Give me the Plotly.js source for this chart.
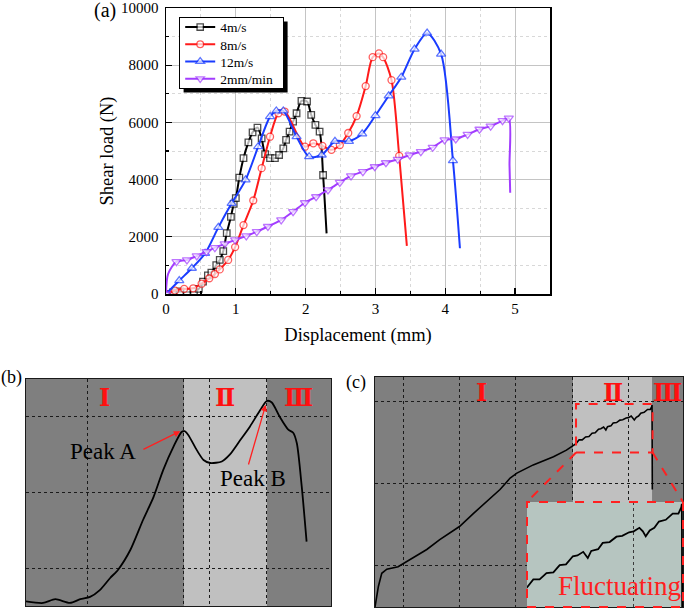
<!DOCTYPE html>
<html><head><meta charset="utf-8">
<script src="https://cdn.plot.ly/plotly-3.0.1.min.js"></script>
<style>html,body{margin:0;padding:0;background:#fff}#chart{width:685px;height:608px}</style>
</head><body><div id="chart"></div>
<script>
// ---------- Panel (a): shear load vs displacement ----------
const seriesNames = ['4m/s', '8m/s', '12m/s', '2mm/min'];
const disp4 = [0.00,0.10,0.20,0.30,0.40,0.47,0.53,0.60,0.65,0.72,0.77,0.82,0.87,0.93,0.97,1.00,1.05,1.11,1.18,1.24,1.31,1.37,1.42,1.49,1.56,1.62,1.68,1.72,1.77,1.82,1.87,1.94,2.02,2.08,2.14,2.20,2.25,2.30];
const load4 = [0,60,90,70,80,180,430,650,750,1010,1190,1500,2130,2700,3150,3350,4070,4750,5300,5650,5820,5440,4890,4750,4750,4860,5090,5390,5680,6030,6320,6750,6730,6260,5910,5680,4160,2120];
const disp8 = [0.00,0.13,0.26,0.39,0.51,0.62,0.70,0.77,0.89,0.99,1.11,1.25,1.37,1.49,1.61,1.70,1.99,2.11,2.24,2.37,2.49,2.61,2.73,2.86,2.96,3.05,3.11,3.23,3.34,3.45];
const load8 = [0,120,180,200,360,550,700,860,1190,1640,2410,3270,4400,5500,6320,6380,5150,5270,5180,5040,5210,5630,6220,7270,8280,8410,8280,7480,4830,1680];
const disp12 = [0.00,0.19,0.37,0.56,0.75,0.94,1.14,1.32,1.49,1.58,1.68,1.87,2.05,2.23,2.42,2.62,2.81,3.00,3.19,3.37,3.56,3.74,3.94,4.11,4.21];
const load12 = [0,470,900,1420,2330,3170,3990,5150,6200,6400,6400,5500,4800,4860,5340,5340,5600,6240,6930,7580,8560,9120,8390,4660,1600];
const dispQS = [0.00,0.03,0.15,0.30,0.44,0.58,0.70,0.84,0.99,1.15,1.30,1.46,1.65,1.82,1.99,2.15,2.32,2.49,2.65,2.82,2.99,3.15,3.32,3.49,3.65,3.82,3.99,4.15,4.32,4.49,4.65,4.82,4.91,4.92,4.93];
const loadQS = [0,700,1130,1190,1330,1480,1620,1750,1890,2030,2180,2360,2590,2880,3190,3400,3640,3900,4130,4280,4450,4590,4710,4860,4980,5130,5390,5420,5580,5760,5870,6060,6150,4500,3540];
const xTicks = [0,1,2,3,4,5];
const yTicks = [0,2000,4000,6000,8000,10000];

// ---------- Panel (b): schematic of a two-peak curve ----------
const bDisp = [0,0.28,0.48,0.72,0.89,1.05,1.21,1.38,1.51,1.71,1.92,2.09,2.25,2.42,2.55,2.60,2.66,2.80,2.91,3.02,3.21,3.34,3.51,3.67,3.84,3.95,4.03,4.16,4.30,4.38,4.44,4.52,4.60];
const bLoad = [0.06,0.04,0.09,0.04,0.09,0.12,0.21,0.37,0.48,0.74,1.14,1.44,1.80,2.11,2.30,2.31,2.26,2.06,1.93,1.89,1.91,2.00,2.19,2.37,2.59,2.71,2.69,2.50,2.33,2.29,2.15,1.58,0.85];
const bStages = [2.59, 3.95];

// ---------- Panel (c): quasi-static curve with fluctuating zone ----------
const cDisp = [0,0.03,0.06,0.12,0.21,0.41,0.56,0.74,0.92,1.15,1.50,1.75,1.98,2.22,2.40,2.52,2.81,3.17,3.40,3.57,3.625,3.68,3.74,3.80,3.855,3.91,3.97,4.01,4.06,4.10,4.13,4.19,4.23,4.29,4.35,4.40,4.46,4.50,4.55,4.58,4.605,4.64,4.68,4.72,4.78,4.84,4.89,4.915,4.92,4.925];
const cLoad = [0,0.12,0.25,0.41,0.46,0.49,0.55,0.63,0.70,0.82,0.98,1.14,1.28,1.43,1.57,1.63,1.73,1.83,1.91,1.99,2.035,2.035,2.07,2.075,2.115,2.12,2.165,2.17,2.19,2.155,2.195,2.205,2.24,2.245,2.275,2.28,2.30,2.305,2.325,2.305,2.277,2.31,2.325,2.36,2.37,2.405,2.405,2.44,2.46,1.43];
const cStages = [3.52, 4.92];
const stageLabels = ['Ⅰ', 'Ⅱ', 'Ⅲ'];
const zoomWindow = {x: [3.57, 4.93], y: [1.88, 2.47]};

// ---------- styling ----------
const SERIF = 'Liberation Serif, Times New Roman, serif';
const W = 685, H = 608;
const px = (a, b) => [a / W, b / W];
const py = (top, bottom) => [1 - bottom / H, 1 - top / H];

const dom = {
  a: {x: px(166, 550), y: py(8, 294)},
  b: {x: px(26, 331), y: py(379, 606)},
  c: {x: px(375, 683), y: py(377, 607)},
  inset: {x: px(527, 683), y: py(502, 607)}
};
const rng = {
  b: {x: [0, 5], y: [0, 3]},
  c: {x: [0, 5.47], y: [0, 2.8]}
};
const LEG = {left: 179, top: 17, w: 104, h: 71, step: 17.2, shadow: 4};

function sizes(n, hidden, s) {
  const arr = new Array(n).fill(s);
  hidden.forEach(i => { arr[i < 0 ? n + i : i] = 0; });
  return arr;
}

function series(x, y, name, color, symbol, size, hidden) {
  return {
    type: 'scatter', mode: 'lines+markers', x: x, y: y, name: name,
    xaxis: 'x', yaxis: 'y',
    line: {color: color, width: 2, shape: 'spline', smoothing: 0.8},
    marker: {symbol: symbol, size: sizes(x.length, hidden, size), color: 'white',
             line: {color: color, width: 1.3}}
  };
}

const traces = [
  series(disp4, load4, seriesNames[0], '#000000', 'square', 6.5, [-1]),
  series(disp8, load8, seriesNames[1], '#ff1a1a', 'circle', 7, [-1]),
  series(disp12, load12, seriesNames[2], '#1a3cff', 'triangle-up', 8, [-1]),
  series(dispQS, loadQS, seriesNames[3], '#a23cff', 'triangle-down', 8, [1, -2, -1]),
  {type: 'scatter', mode: 'lines', x: bDisp, y: bLoad, xaxis: 'x2', yaxis: 'y2', showlegend: false,
   line: {color: '#000', width: 1.8, shape: 'spline', smoothing: 0.7}},
  {type: 'scatter', mode: 'lines', x: cDisp, y: cLoad, xaxis: 'x3', yaxis: 'y3', showlegend: false,
   line: {color: '#000', width: 1.6}},
  {type: 'scatter', mode: 'lines', x: cDisp, y: cLoad, xaxis: 'x4', yaxis: 'y4', showlegend: false,
   line: {color: '#000', width: 1.8}}
];

const frameAxis = {showline: true, mirror: true, linecolor: '#1a1a1a', linewidth: 1,
  showticklabels: false, ticks: '', zeroline: false, showgrid: true,
  gridcolor: '#1a1a1a', griddash: 'dot', gridwidth: 1, fixedrange: true};

const DARK = '#7f7f7f', LIGHT = '#c0c0c0';
const shapes = [];
function stageRects(xa, ya, stages, xr, yr) {
  const edges = [xr[0], stages[0], stages[1], xr[1]];
  [DARK, LIGHT, DARK].forEach((c, i) => {
    shapes.push({type: 'rect', xref: xa, yref: ya, layer: 'below',
      x0: edges[i], x1: edges[i + 1], y0: yr[0], y1: yr[1],
      fillcolor: c, line: {width: 0}});
  });
}
stageRects('x2', 'y2', bStages, rng.b.x, rng.b.y);
stageRects('x3', 'y3', cStages, rng.c.x, rng.c.y);
shapes.push({type: 'rect', xref: 'x4', yref: 'y4', layer: 'below',
  x0: zoomWindow.x[0], x1: zoomWindow.x[1], y0: zoomWindow.y[0], y1: zoomWindow.y[1],
  fillcolor: '#b6c5c0', line: {width: 0}});
shapes.push({type: 'rect', xref: 'paper', yref: 'paper', layer: 'above',
  x0: dom.inset.x[0], x1: dom.inset.x[1], y0: dom.inset.y[0], y1: dom.inset.y[1],
  line: {color: '#ff2020', width: 2, dash: 'dash'}});
shapes.push({type: 'rect', xref: 'x3', yref: 'y3', layer: 'above',
  x0: zoomWindow.x[0], x1: zoomWindow.x[1], y0: zoomWindow.y[0], y1: zoomWindow.y[1],
  line: {color: '#ff2020', width: 2, dash: 'dash'}});
const cx = v => dom.c.x[0] + (v - rng.c.x[0]) / (rng.c.x[1] - rng.c.x[0]) * (dom.c.x[1] - dom.c.x[0]);
const cy = v => dom.c.y[0] + (v - rng.c.y[0]) / (rng.c.y[1] - rng.c.y[0]) * (dom.c.y[1] - dom.c.y[0]);
shapes.push({type: 'line', xref: 'paper', yref: 'paper', layer: 'above',
  x0: cx(zoomWindow.x[0]), y0: cy(zoomWindow.y[0]), x1: dom.inset.x[0], y1: dom.inset.y[1],
  line: {color: '#ff2020', width: 2, dash: 'dash'}});
shapes.push({type: 'line', xref: 'paper', yref: 'paper', layer: 'above',
  x0: cx(zoomWindow.x[1]), y0: cy(zoomWindow.y[0]), x1: dom.inset.x[1], y1: dom.inset.y[1],
  line: {color: '#ff2020', width: 2, dash: 'dash'}});
// legend drop shadow
shapes.push({type: 'rect', xref: 'paper', yref: 'paper', layer: 'above',
  x0: (LEG.left + 0.6 + LEG.shadow) / W, x1: (LEG.left + 0.6 + LEG.w + LEG.shadow) / W,
  y0: 1 - (LEG.top + 0.6 + LEG.h + LEG.shadow) / H, y1: 1 - (LEG.top + 0.6 + LEG.shadow) / H,
  fillcolor: '#000', line: {width: 0}});

const lbl = {showarrow: false, xanchor: 'center', yanchor: 'middle'};
const annotations = [
  Object.assign({text: '(a)', xref: 'paper', yref: 'paper', x: 105 / W, y: 1 - 10 / H, font: {size: 20}}, lbl),
  Object.assign({text: '(b)', xref: 'paper', yref: 'paper', x: 11 / W, y: 1 - 377 / H, font: {size: 18}}, lbl),
  Object.assign({text: '(c)', xref: 'paper', yref: 'paper', x: 356 / W, y: 1 - 382 / H, font: {size: 18}}, lbl),
  Object.assign({text: 'Peak A', xref: 'x2', yref: 'y2', x: 1.26, y: 2.04, font: {size: 23, color: '#000'}}, lbl),
  Object.assign({text: 'Peak B', xref: 'x2', yref: 'y2', x: 3.72, y: 1.68, font: {size: 23, color: '#000'}}, lbl),
  {text: '', xref: 'x2', yref: 'y2', x: 2.53, y: 2.31, axref: 'x2', ayref: 'y2', ax: 1.90, ay: 2.06,
   showarrow: true, arrowhead: 2, arrowsize: 1, arrowwidth: 1.3, arrowcolor: '#ff2020'},
  {text: '', xref: 'x2', yref: 'y2', x: 3.93, y: 2.66, axref: 'x2', ayref: 'y2', ax: 3.64, ay: 1.85,
   showarrow: true, arrowhead: 2, arrowsize: 1, arrowwidth: 1.3, arrowcolor: '#ff2020'},
  Object.assign({text: 'Fluctuating', xref: 'x4 domain', yref: 'y4 domain', x: 0.59, y: 0.2,
   font: {size: 27, color: '#ff2020'}}, lbl)
];
const numeralFont = {size: 24, color: '#ff1010', family: 'DejaVu Serif, Liberation Serif, serif'};
const bCenters = [(rng.b.x[0] + bStages[0]) / 2, (bStages[0] + bStages[1]) / 2, (bStages[1] + rng.b.x[1]) / 2];
const cCenters = [1.9, (cStages[0] + cStages[1]) / 2, (cStages[1] + rng.c.x[1]) / 2];
stageLabels.forEach((t, i) => {
  annotations.push(Object.assign({text: '<b>' + t + '</b>', xref: 'x2', yref: 'y2', x: bCenters[i], y: 2.75, font: numeralFont}, lbl));
  annotations.push(Object.assign({text: '<b>' + t + '</b>', xref: 'x3', yref: 'y3', x: cCenters[i], y: 2.61, font: numeralFont}, lbl));
});

const layout = {
  width: W, height: H, margin: {l: 0, r: 0, t: 0, b: 0},
  paper_bgcolor: '#fff', plot_bgcolor: 'rgba(0,0,0,0)',
  font: {family: SERIF, color: '#000', size: 15},
  showlegend: true,
  legend: {x: LEG.left / W, y: 1 - LEG.top / H, xanchor: 'left', yanchor: 'top',
           bgcolor: '#fff', bordercolor: '#000', borderwidth: 1.2,
           font: {size: 13.5, family: SERIF}, itemwidth: 30, tracegroupgap: 0},
  xaxis: {domain: dom.a.x, range: [0, 5.5], anchor: 'y', tickvals: xTicks,
    ticks: 'inside', ticklen: 6, tickwidth: 1.2, tickcolor: '#000',
    showline: true, mirror: true, linecolor: '#000', linewidth: 1.5,
    showgrid: true, gridcolor: '#c4c4c4', gridwidth: 1, zeroline: false,
    minor: {dtick: 0.5, tick0: 0, ticks: 'inside', ticklen: 3, tickcolor: '#000',
            showgrid: true, gridcolor: '#d8d8d8', griddash: 'dot', gridwidth: 1},
    tickfont: {size: 15, family: SERIF}, title: {text: 'Displacement (mm)', font: {size: 18.5, family: SERIF}, standoff: 12},
    fixedrange: true},
  yaxis: {domain: dom.a.y, range: [0, 10000], anchor: 'x', tickvals: yTicks, tickformat: 'd',
    ticks: 'inside', ticklen: 6, tickwidth: 1.2, tickcolor: '#000', ticklabelstandoff: 3,
    showline: true, mirror: true, linecolor: '#000', linewidth: 1.5,
    showgrid: true, gridcolor: '#c4c4c4', gridwidth: 1, zeroline: false,
    minor: {dtick: 1000, tick0: 0, ticks: 'inside', ticklen: 3, tickcolor: '#000',
            showgrid: true, gridcolor: '#d8d8d8', griddash: 'dot', gridwidth: 1},
    tickfont: {size: 15, family: SERIF}, title: {text: 'Shear load (N)', font: {size: 18.5, family: SERIF}, standoff: 2},
    fixedrange: true},
  xaxis2: Object.assign({}, frameAxis, {domain: dom.b.x, range: rng.b.x, anchor: 'y2',
    tickvals: [1, bStages[0], 3, bStages[1]]}),
  yaxis2: Object.assign({}, frameAxis, {domain: dom.b.y, range: rng.b.y, anchor: 'x2',
    tickvals: [0.5, 1.5, 2.5]}),
  xaxis3: Object.assign({}, frameAxis, {domain: dom.c.x, range: rng.c.x, anchor: 'y3',
    tickvals: [0.5, 1.5, 2.5, 3.5, 4.5]}),
  yaxis3: Object.assign({}, frameAxis, {domain: dom.c.y, range: rng.c.y, anchor: 'x3',
    tickvals: [0.5, 1.5, 2.5]}),
  xaxis4: Object.assign({}, frameAxis, {domain: dom.inset.x, range: zoomWindow.x, anchor: 'y4',
    showline: false, tickvals: [4.5], gridcolor: '#3a3a3a'}),
  yaxis4: Object.assign({}, frameAxis, {domain: dom.inset.y, range: zoomWindow.y, anchor: 'x4',
    showline: false, showgrid: false}),
  shapes: shapes,
  annotations: annotations
};

// tighten the rendered legend box to the reference's compact spacing
function compactLegend(gd) {
  const legend = gd.querySelector('g.legend');
  if (!legend) return;
  const bg = legend.querySelector('rect.bg');
  const items = Array.from(legend.querySelectorAll('g.traces'));
  const H0 = parseFloat(bg.getAttribute('height'));
  const re = /translate\(\s*([-\d.e]+)[\s,]+([-\d.e]+)\s*\)/;
  const pos = items.map(g => { const m = re.exec(g.getAttribute('transform') || ''); return m ? [parseFloat(m[1]), parseFloat(m[2])] : [0, 0]; });
  const n = items.length;
  const s0 = n > 1 ? (pos[n - 1][1] - pos[0][1]) / (n - 1) : 0;
  const centerOff = pos[0][1] + (n - 1) / 2 * s0 - H0 / 2;
  items.forEach((g, i) => {
    const y = LEG.h / 2 + centerOff + (i - (n - 1) / 2) * LEG.step;
    g.setAttribute('transform', 'translate(' + pos[i][0] + ',' + y + ')');
  });
  bg.setAttribute('height', LEG.h);
  bg.setAttribute('width', LEG.w);
}

Plotly.newPlot('chart', traces, layout, {staticPlot: true, displayModeBar: false}).then(compactLegend);
</script>
</body></html>
